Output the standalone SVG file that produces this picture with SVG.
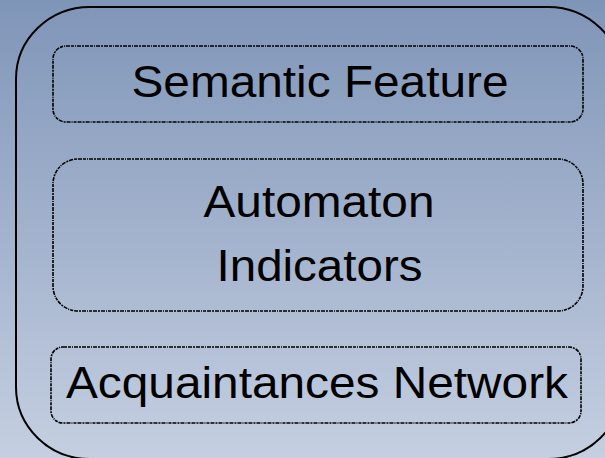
<svg xmlns="http://www.w3.org/2000/svg" width="605" height="458" viewBox="0 0 605 458">
  <defs>
    <linearGradient id="bg" x1="0" y1="0" x2="0" y2="1">
      <stop offset="0" stop-color="#7f95b8"/>
      <stop offset="1" stop-color="#c5cfe1"/>
    </linearGradient>
    <style>
      .outer { fill: none; stroke: #000; stroke-width: 2; }
      .box { fill: none; stroke: #000; stroke-width: 1.6; stroke-dasharray: 4 1 3 1 1 1 4 1 2 1; }
      .lbl { font-family: "Liberation Sans", Arial, sans-serif; font-size: 44px; fill: #000; text-anchor: middle; }
    </style>
  </defs>
  <rect x="0" y="0" width="605" height="458" fill="url(#bg)"/>
  <g id="container">
    <rect class="outer" x="16" y="7" width="606" height="452" rx="74" ry="72"/>
  </g>
  <g id="connectors"></g>
  <g id="semantic-feature">
    <rect class="box" x="53" y="46" width="530" height="76" rx="13"/>
    <text class="lbl" x="320" y="97" textLength="377" lengthAdjust="spacingAndGlyphs">Semantic Feature</text>
  </g>
  <g id="automaton-indicators">
    <rect class="box" x="53" y="159" width="530" height="152" rx="25"/>
    <text class="lbl" x="319" y="217" textLength="231" lengthAdjust="spacingAndGlyphs">Automaton</text>
    <text class="lbl" x="319.5" y="281" textLength="206" lengthAdjust="spacingAndGlyphs">Indicators</text>
  </g>
  <g id="acquaintances-network">
    <rect class="box" x="51" y="347" width="530" height="76" rx="12"/>
    <text class="lbl" x="317" y="398" textLength="502" lengthAdjust="spacingAndGlyphs">Acquaintances Network</text>
  </g>
</svg>
